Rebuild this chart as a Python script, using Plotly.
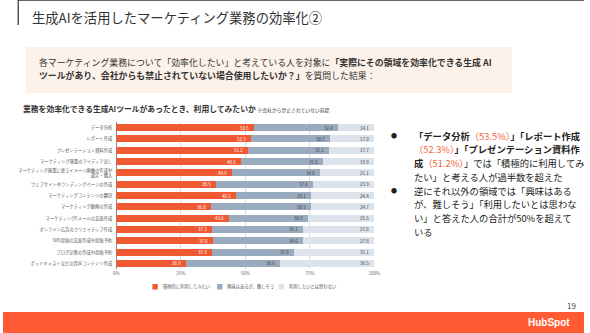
import plotly.graph_objects as go

W, H = 590, 333
FONT = "Noto Sans CJK JP"

categories = [
    "データ分析",
    "レポート作成",
    "プレゼンテーション資料作成",
    "マーケティング施策のアイディア出し",
    "マーケティング施策に使うイメージ画像の作成や<br>選定・購入",
    "ウェブサイトやランディングページの作成",
    "マーケティングコンテンツの翻訳",
    "マーケティング動画の作成",
    "マーケティングEメールの文面作成",
    "オンライン広告のクリエイティブ作成",
    "SNS投稿の文面作成や投稿予約",
    "ブログ記事の作成や投稿予約",
    "ポッドキャストなどの音声コンテンツ作成",
]
positive = [53.5, 52.3, 51.2, 48.5, 44.9, 38.5, 46.5, 36.8, 43.6, 37.3, 37.6, 37.3, 26.9]
neutral = [32.4, 30.7, 31.1, 31.6, 34.0, 37.6, 29.1, 38.5, 30.9, 35.1, 34.6, 31.6, 36.6]
negative = [14.1, 17.0, 17.7, 19.9, 21.1, 23.9, 24.4, 24.7, 25.5, 27.6, 27.8, 31.1, 36.5]
series_names = ["積極的に利用してみたい", "興味はあるが、難しそう", "利用したいとは思わない"]
tick_vals = [0, 25, 50, 75, 100]
tick_text = ["0%", "25%", "50%", "75%", "100%"]

ORANGE = "#f05a32"
GRAY = "#9aabbf"
LIGHT = "#dce3eb"
colors = [ORANGE, GRAY, LIGHT]
text_colors = ["white", "#3a3a3a", "#3a3a3a"]


def py(px):
    return 1 - px / H


def px_x(px):
    return px / W


fig = go.Figure()
all_series = [positive, neutral, negative]
for vals, name, c in zip(all_series, series_names, colors):
    fig.add_trace(go.Bar(
        y=categories, x=vals, name=name, orientation="h",
        marker=dict(color=c, line=dict(width=0)),
        showlegend=False, hoverinfo="skip",
    ))

fig.update_layout(
    width=W, height=H, margin=dict(l=0, r=0, t=0, b=0),
    paper_bgcolor="white", plot_bgcolor="white",
    barmode="stack", bargap=0.38,
    font=dict(family=FONT, color="#555"),
    xaxis=dict(domain=[px_x(115), px_x(377)], range=[0, 100], tickvals=tick_vals, ticktext=tick_text,
               showgrid=True, gridcolor="#dcdcdc", gridwidth=0.6, zeroline=True, zerolinecolor="#888",
               zerolinewidth=0.8, tickfont=dict(size=4.5, color="#666"), ticks="", fixedrange=True),
    yaxis=dict(domain=[py(269), py(122)], autorange="reversed", tickfont=dict(size=4.3, color="#555"),
               ticks="", ticklabelstandoff=3, fixedrange=True),
)

shapes = []
annotations = []

# value labels, placed at the end of each stacked segment in data coordinates
for s_idx, (vals, tc) in enumerate(zip(all_series, text_colors)):
    for i, cat in enumerate(categories):
        end = sum(all_series[k][i] for k in range(s_idx + 1))
        annotations.append(dict(text=f"{vals[i]:.1f}", x=end, y=cat, xref="x", yref="y",
                                xanchor="right", yanchor="middle", xshift=-3, showarrow=False,
                                font=dict(size=4.5, color=tc, family=FONT)))

# top border and title accent bar
shapes.append(dict(type="line", xref="paper", yref="paper", x0=px_x(15), x1=1, y0=py(0.5), y1=py(0.5),
                   line=dict(color="#666", width=1)))
shapes.append(dict(type="line", xref="paper", yref="paper", x0=px_x(15.5), x1=px_x(15.5), y0=py(0), y1=py(25),
                   line=dict(color="#555", width=1.5)))
annotations.append(dict(text="生成AIを活用したマーケティング業務の効率化②", x=px_x(27), y=py(17.5), xref="paper",
                        yref="paper", xanchor="left", yanchor="middle", showarrow=False,
                        font=dict(size=13.3, color="#333", family=FONT)))

# info box
shapes.append(dict(type="rect", xref="paper", yref="paper", x0=px_x(23), x1=px_x(517), y0=py(93), y1=py(47),
                   fillcolor="#fdf2e9", line=dict(width=0), layer="below"))
annotations.append(dict(text="各マーケティング業務について「効率化したい」と考えている人を対象に<b>「実際にその領域を効率化できる生成 AI</b>",
                        x=px_x(35), y=py(62.5), xref="paper", yref="paper", xanchor="left", yanchor="middle",
                        showarrow=False, font=dict(size=8.9, color="#333", family=FONT)))
annotations.append(dict(text="<b>ツールがあり、会社からも禁止されていない場合使用したいか？」</b>を質問した結果：",
                        x=px_x(35), y=py(76), xref="paper", yref="paper", xanchor="left", yanchor="middle",
                        showarrow=False, font=dict(size=8.9, color="#333", family=FONT)))

# chart title
annotations.append(dict(text="<b>業務を効率化できる生成AIツールがあったとき、利用してみたいか</b> <span style='font-size:4.8px'>※会社から禁止されていない前提</span>",
                        x=px_x(18), y=py(108), xref="paper", yref="paper", xanchor="left", yanchor="middle",
                        showarrow=False, font=dict(size=7.8, color="#333", family=FONT)))

# manual legend
leg_x = [151.7, 217.3, 280]
for lx, name, c in zip(leg_x, series_names, colors):
    shapes.append(dict(type="rect", xref="paper", yref="paper", x0=px_x(lx), x1=px_x(lx + 5.5),
                       y0=py(289.5), y1=py(284), fillcolor=c, line=dict(width=0)))
    annotations.append(dict(text=name, x=px_x(lx + 8.5), y=py(286.8), xref="paper", yref="paper",
                            xanchor="left", yanchor="middle", showarrow=False,
                            font=dict(size=4.3, color="#555", family=FONT)))

# right-side commentary
OR = "<span style='color:#f0643c'>%s</span>"
lines = [
    "<b>「データ分析</b>" + OR % "（53.5%）" + "<b>」「レポート作成</b>",
    OR % "（52.3%）" + "<b>」「プレゼンテーション資料作</b>",
    "<b>成</b>" + OR % "（51.2%）" + "」では「積極的に利用してみ",
    "たい」と考える人が過半数を超えた",
    "逆にそれ以外の領域では「興味はある",
    "が、難しそう」「利用したいとは思わな",
    "い」と答えた人の合計が50%を超えて",
    "いる",
]
for i, ln in enumerate(lines):
    yy = 135.7 + 13.7 * i
    annotations.append(dict(text=ln, x=px_x(415), y=py(yy), xref="paper", yref="paper", xanchor="left",
                            yanchor="middle", showarrow=False, font=dict(size=9.3, color="#222", family=FONT)))
for i in (0, 4):
    yy = 135.7 + 13.7 * i
    annotations.append(dict(text="●", x=px_x(397), y=py(yy), xref="paper", yref="paper", xanchor="center",
                            yanchor="middle", showarrow=False, font=dict(size=6, color="#222", family=FONT)))

# page number and footer
annotations.append(dict(text="19", x=px_x(584), y=py(305), xref="paper", yref="paper", xanchor="right",
                        yanchor="middle", showarrow=False, font=dict(size=8, color="#444", family=FONT)))
shapes.append(dict(type="rect", xref="paper", yref="paper", x0=0, x1=1, y0=0, y1=py(312),
                   fillcolor="#ff5c35", line=dict(width=0)))
annotations.append(dict(text="<b>HubSpot</b>", x=px_x(554), y=py(322.5), xref="paper", yref="paper",
                        xanchor="center", yanchor="middle", showarrow=False,
                        font=dict(size=10, color="white", family="Liberation Sans")))

fig.update_layout(shapes=shapes, annotations=annotations)
fig.write_html("out.html")
